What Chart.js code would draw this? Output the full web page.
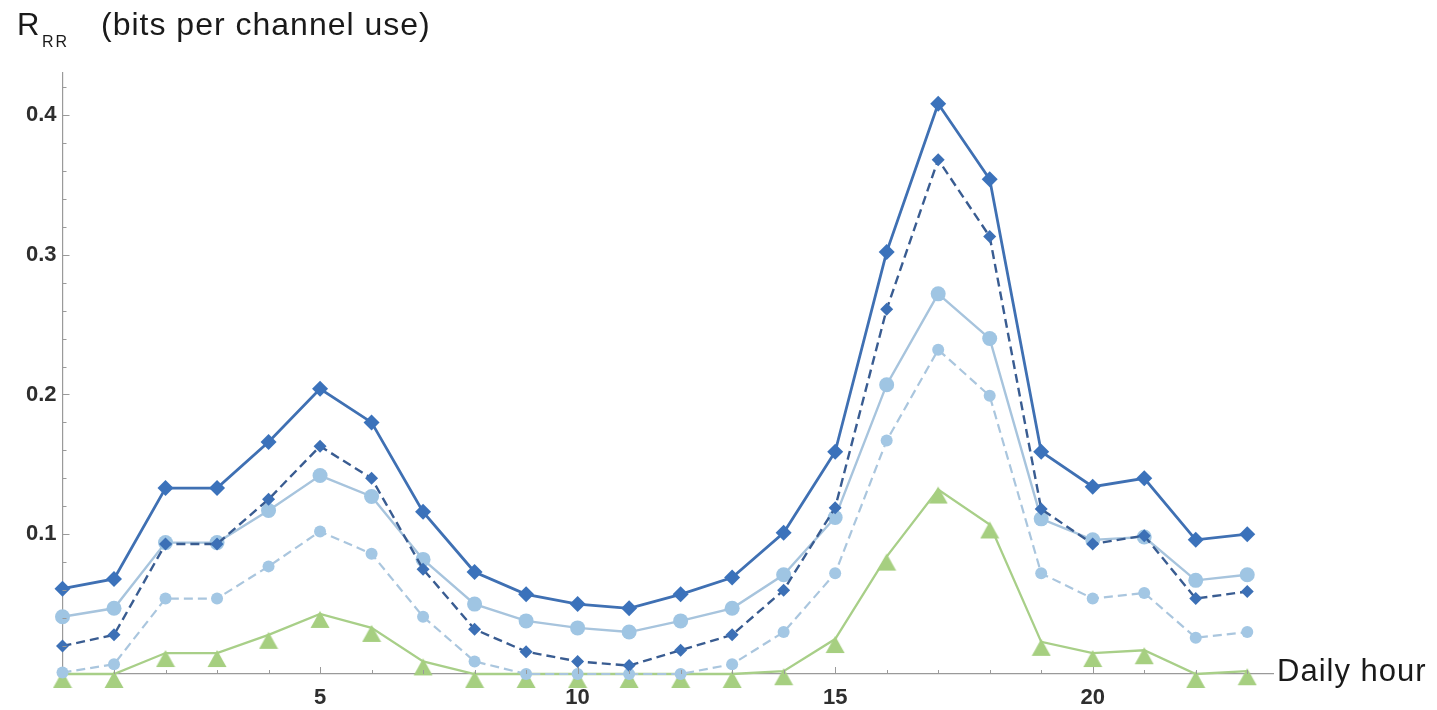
<!DOCTYPE html>
<html>
<head>
<meta charset="utf-8">
<script src="https://cdn.jsdelivr.net/npm/chart.js"></script>
<style>
  html, body { margin: 0; padding: 0; background: #ffffff; }
  #wrap { width: 1437px; height: 710px; position: relative; }
</style>
</head>
<body>
<div id="wrap"><canvas id="rateChart"></canvas></div>
<script>
// Values (hour 0..23)
const hours = [0, 1, 2, 3, 4, 5, 6, 7, 8, 9, 10, 11, 12, 13, 14, 15, 16, 17, 18, 19, 20, 21, 22, 23];
const darkSolid  = [0.061, 0.068, 0.133, 0.133, 0.166, 0.204, 0.180, 0.116, 0.073, 0.057, 0.050, 0.047, 0.057, 0.069, 0.101, 0.159, 0.302, 0.408, 0.354, 0.159, 0.134, 0.140, 0.096, 0.100];
const darkDashed = [0.020, 0.028, 0.093, 0.093, 0.125, 0.163, 0.140, 0.075, 0.032, 0.016, 0.009, 0.006, 0.017, 0.028, 0.060, 0.119, 0.261, 0.368, 0.313, 0.118, 0.093, 0.099, 0.054, 0.059];
const lightSolid = [0.041, 0.047, 0.094, 0.094, 0.117, 0.142, 0.127, 0.082, 0.050, 0.038, 0.033, 0.030, 0.038, 0.047, 0.071, 0.112, 0.207, 0.272, 0.240, 0.111, 0.096, 0.098, 0.067, 0.071];
const lightDashed = [0.001, 0.007, 0.054, 0.054, 0.077, 0.102, 0.086, 0.041, 0.009, 0, 0, 0, 0, 0.007, 0.030, 0.072, 0.167, 0.232, 0.199, 0.072, 0.054, 0.058, 0.026, 0.030];
const greenSolid = [0, 0, 0.015, 0.015, 0.028, 0.043, 0.033, 0.009, 0, 0, 0, 0, 0, 0, 0.002, 0.025, 0.084, 0.132, 0.107, 0.023, 0.015, 0.017, 0, 0.002];

const xTickLabels = [5, 10, 15, 20];
const yTickLabels = [0.1, 0.2, 0.3, 0.4];

const toPoints = values => values.map((v, i) => ({ x: hours[i], y: v }));

// Mathematica-style up triangle: sits a bit low on its point
function makeTriangle(color) {
  const c = document.createElement('canvas');
  c.width = 20;
  c.height = 34;
  const g = c.getContext('2d');
  g.fillStyle = color;
  g.beginPath();
  g.moveTo(10, 14);
  g.lineTo(19.5, 31);
  g.lineTo(0.5, 31);
  g.closePath();
  g.fill();
  return c;
}

// Inward tick marks, axis title and subscript label
const decorPlugin = {
  id: 'decor',
  afterDraw(chart) {
    const { ctx, chartArea, scales } = chart;
    const x = scales.x, y = scales.y;
    const x0 = x.getPixelForValue(0);
    const y0 = y.getPixelForValue(0);
    ctx.save();
    ctx.strokeStyle = '#9a9a9a';
    ctx.lineWidth = 1;
    ctx.beginPath();
    for (let h = 1; h <= 23; h++) {
      const px = Math.round(x.getPixelForValue(h)) + 0.5;
      const len = xTickLabels.includes(h) ? 7 : 4;
      ctx.moveTo(px, y0);
      ctx.lineTo(px, y0 - len);
    }
    for (let k = 1; k <= 21; k++) {
      const py = Math.round(y.getPixelForValue(k * 0.02)) + 0.5;
      const len = (k % 5 === 0) ? 7 : 4;
      ctx.moveTo(x0, py);
      ctx.lineTo(x0 + len, py);
    }
    ctx.stroke();

    ctx.fillStyle = '#1a1a1a';
    ctx.textBaseline = 'alphabetic';
    ctx.textAlign = 'left';
    ctx.font = '31px "Liberation Sans", Arial, sans-serif';
    ctx.fillText('R', 17, 35);
    ctx.font = '32px "Liberation Sans", Arial, sans-serif';
    ctx.letterSpacing = '1px';
    ctx.fillText('(bits per channel use)', 101, 35);
    ctx.font = '31px "Liberation Sans", Arial, sans-serif';
    ctx.letterSpacing = '1px';
    ctx.fillText('Daily hour', chartArea.right + 4, y0 + 7);
    ctx.font = '16px "Liberation Sans", Arial, sans-serif';
    ctx.letterSpacing = '2px';
    ctx.fillText('RR', 42, 47);
    ctx.letterSpacing = '0px';
    ctx.restore();
  }
};

const tickFont = { family: '"Liberation Sans", Arial, sans-serif', size: 22, weight: 'bold' };

new Chart(document.getElementById('rateChart'), {
  type: 'line',
  data: {
    datasets: [
      {
        data: toPoints(darkSolid),
        borderColor: '#3f70b3',
        backgroundColor: '#3b72bb',
        borderWidth: 2.8,
        pointStyle: 'rectRot',
        pointRadius: 8,
        pointBorderWidth: 0,
        order: 0,
        clip: false
      },
      {
        data: toPoints(darkDashed),
        borderColor: '#395c91',
        backgroundColor: '#3c70b6',
        borderWidth: 2.4,
        borderDash: [9, 5],
        pointStyle: 'rectRot',
        pointRadius: 6.5,
        pointBorderWidth: 0,
        order: 1,
        clip: false
      },
      {
        data: toPoints(lightSolid),
        borderColor: '#a7c4dd',
        backgroundColor: '#9fc5e3',
        borderWidth: 2.4,
        pointStyle: 'circle',
        pointRadius: 7.5,
        pointBorderWidth: 0,
        order: 2,
        clip: false
      },
      {
        data: toPoints(lightDashed),
        borderColor: '#aac6de',
        backgroundColor: '#a3c7e4',
        borderWidth: 2.2,
        borderDash: [9, 5],
        pointStyle: 'circle',
        pointRadius: 6,
        pointBorderWidth: 0,
        order: 3,
        clip: false
      },
      {
        data: toPoints(greenSolid),
        borderColor: '#a8cf88',
        backgroundColor: '#a6cf80',
        borderWidth: 2.3,
        pointStyle: makeTriangle('#a6cf80'),
        pointRadius: 10,
        order: 4,
        clip: false
      }
    ]
  },
  options: {
    responsive: true,
    maintainAspectRatio: false,
    animation: false,
    events: [],
    layout: { padding: { top: 73, right: 164, left: 0, bottom: 0 } },
    plugins: {
      legend: { display: false },
      tooltip: { enabled: false }
    },
    elements: { line: { tension: 0 } },
    scales: {
      x: {
        type: 'linear',
        min: 0,
        max: 23.5,
        afterFit: s => { s.height = 36; },
        grid: { display: false, drawTicks: false },
        border: { display: true, color: '#9a9a9a', width: 1.2 },
        ticks: {
          stepSize: 5,
          padding: 11,
          color: '#2e2e2e',
          font: tickFont,
          maxRotation: 0,
          autoSkip: false,
          callback: v => (xTickLabels.includes(v) ? String(v) : '')
        }
      },
      y: {
        type: 'linear',
        min: 0,
        max: 0.43,
        afterFit: s => { s.width = 62.5; },
        grid: { display: false, drawTicks: false },
        border: { display: true, color: '#9a9a9a', width: 1.2 },
        ticks: {
          stepSize: 0.1,
          padding: 6,
          color: '#2e2e2e',
          font: tickFont,
          autoSkip: false,
          callback: v => {
            const r = Math.round(v * 10) / 10;
            return (Math.abs(v - r) < 1e-6 && yTickLabels.includes(r)) ? r.toFixed(1) : '';
          }
        }
      }
    }
  },
  plugins: [decorPlugin]
});
</script>
</body>
</html>
